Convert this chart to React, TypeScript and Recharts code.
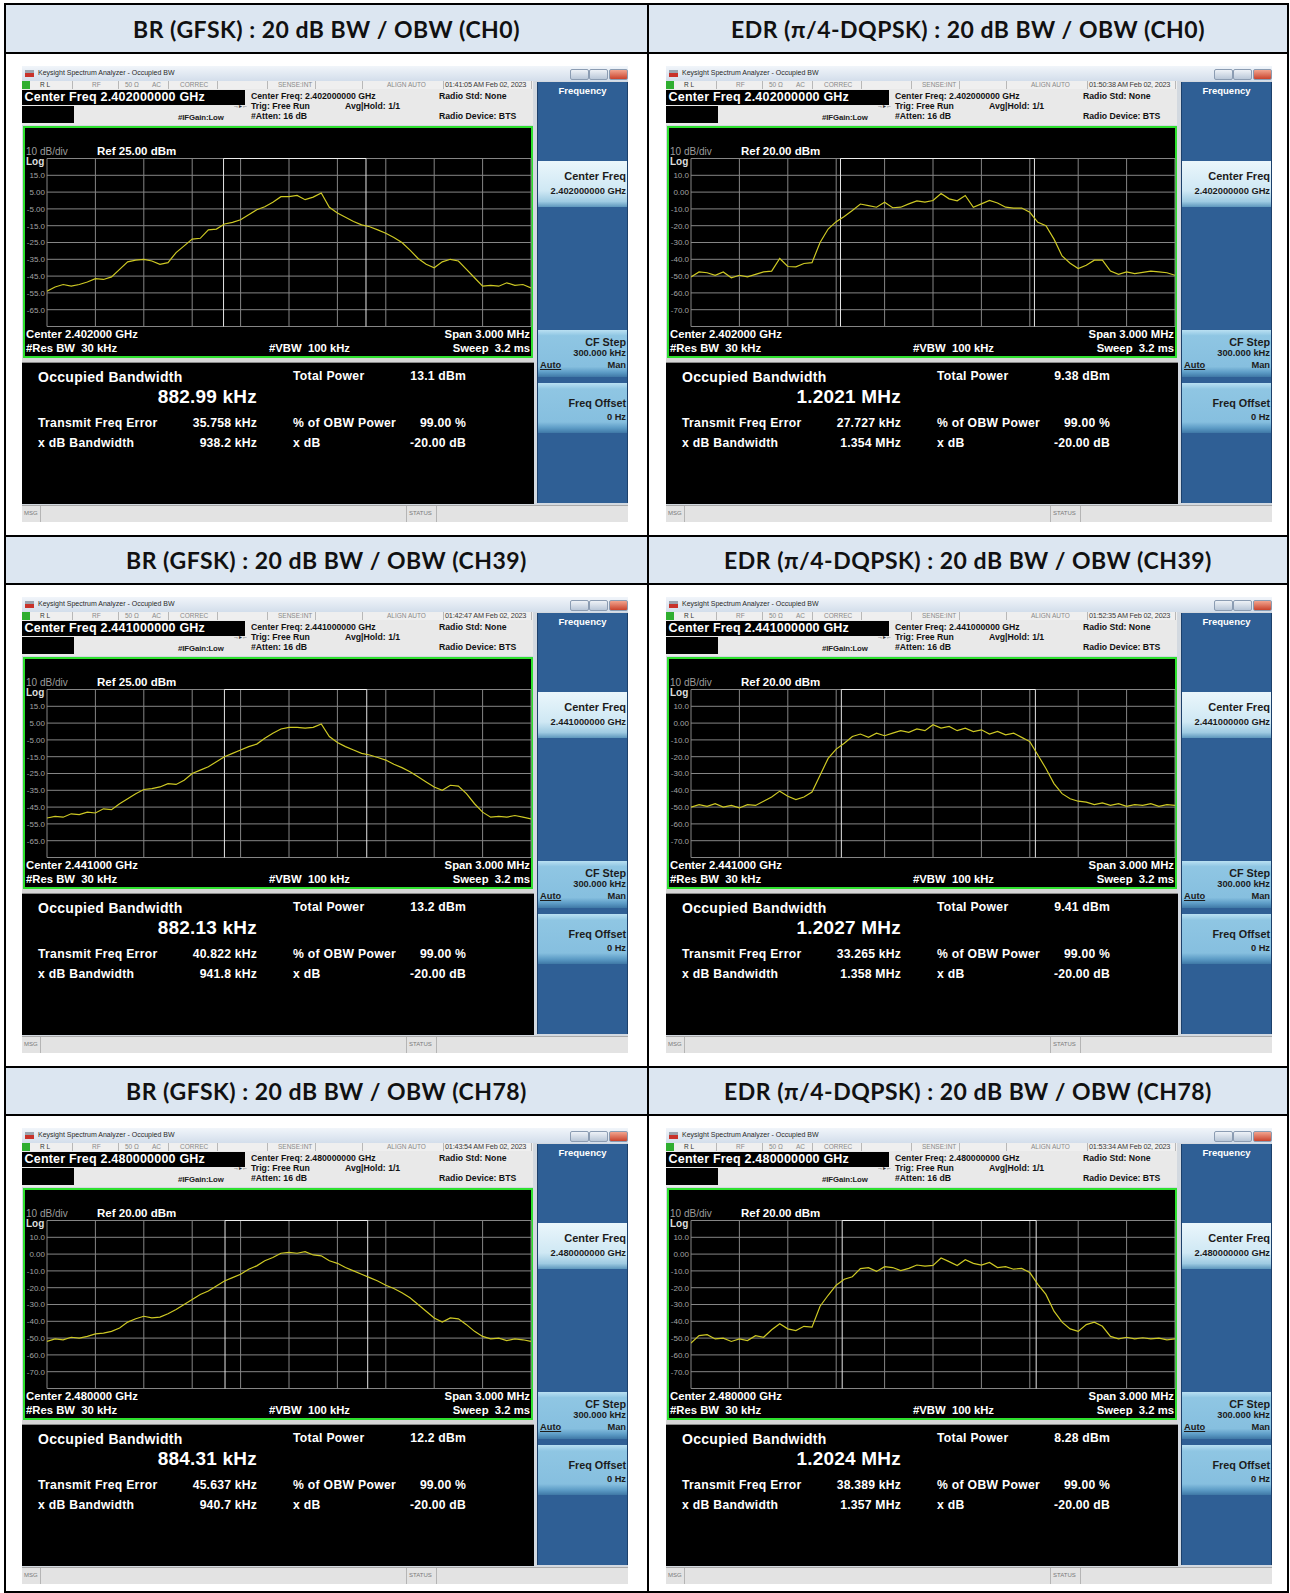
import React from 'react';
import { LineChart, Line, XAxis, YAxis, CartesianGrid, ReferenceLine } from 'recharts';

const UI = '"Liberation Sans", Arial, Helvetica, sans-serif';
const HEAD_FONT = 'Lato, "Open Sans", "Noto Sans", sans-serif';

// table header cells, row by row (left, right)
const TITLES = [
  'BR (GFSK) : 20 dB BW / OBW (CH0)',
  'EDR (π/4-DQPSK) : 20 dB BW / OBW (CH0)',
  'BR (GFSK) : 20 dB BW / OBW (CH39)',
  'EDR (π/4-DQPSK) : 20 dB BW / OBW (CH39)',
  'BR (GFSK) : 20 dB BW / OBW (CH78)',
  'EDR (π/4-DQPSK) : 20 dB BW / OBW (CH78)',
];

// analyzer readouts, same order as TITLES
const CENTER_FREQ = ['2.402000000', '2.402000000', '2.441000000', '2.441000000', '2.480000000', '2.480000000'];
const CENTER_SHORT = ['2.402000', '2.402000', '2.441000', '2.441000', '2.480000', '2.480000'];
const TIMESTAMPS = [
  '01:41:05 AM Feb 02, 2023',
  '01:50:38 AM Feb 02, 2023',
  '01:42:47 AM Feb 02, 2023',
  '01:52:35 AM Feb 02, 2023',
  '01:43:54 AM Feb 02, 2023',
  '01:53:34 AM Feb 02, 2023',
];
const REF_LEVELS = [25, 20, 25, 20, 20, 20];
const OBW_KHZ = [882.99, 1202.1, 882.13, 1202.7, 884.31, 1202.4];
const OBW_TEXT = ['882.99 kHz', '1.2021 MHz', '882.13 kHz', '1.2027 MHz', '884.31 kHz', '1.2024 MHz'];
const TOTAL_POWER = ['13.1 dBm', '9.38 dBm', '13.2 dBm', '9.41 dBm', '12.2 dBm', '8.28 dBm'];
const FREQ_ERR_KHZ = [35.758, 27.727, 40.822, 33.265, 45.637, 38.389];
const XDB_BW = ['938.2 kHz', '1.354 MHz', '941.8 kHz', '1.358 MHz', '940.7 kHz', '1.357 MHz'];

// span 3 MHz, 10 divisions
const FREQ_TICKS = [-1500, -1200, -900, -600, -300, 0, 300, 600, 900, 1200, 1500];
const SWEEP_START = -1500;
const SWEEP_STEP = 50; // kHz between read-off trace points

// traces in dBm, read every 50 kHz from -1.5 MHz to +1.5 MHz
const TRACE_BR_CH0 = [
  -54, -51.5, -50, -51, -50, -48.5, -46.5, -47, -45.5, -41, -36.5, -35.5, -35, -36, -38, -37,
  -31, -27, -23, -22.5, -17.5, -17, -14, -13, -11.5, -8.5, -5.5, -3.7, -1, 2.3, 2.3, 3,
  0.5, 2, 4.5, -4, -7.5, -10, -12.5, -14.5, -15.6, -17.5, -19.5, -22, -25, -29.5, -34.5, -38,
  -40, -36.5, -35, -36, -41, -46, -51, -50.5, -51, -49, -50.5, -50, -52,
];
const TRACE_EDR_CH0 = [
  -50.5, -47.5, -48, -49.5, -47.5, -51, -49.5, -50.5, -49, -47.5, -47, -39.5, -44.3, -44.5, -42.5, -42,
  -30, -22, -17.6, -14.5, -11, -7.1, -8, -9, -6, -9.3, -9, -7, -5.2, -6, -5, -0.8,
  -4, -5.2, -2, -9, -7, -5, -6.5, -9, -9.5, -9.5, -12, -18, -20, -28, -38, -42.3,
  -45.5, -43.5, -40.5, -40.5, -47, -49, -47.5, -48.5, -47.8, -47, -47.5, -48, -49.5,
];
const TRACE_BR_CH39 = [
  -51.5, -50.5, -51, -49, -49.5, -48, -48.5, -46, -46.5, -43, -40, -37, -34.5, -34, -33, -31,
  -31.5, -29, -25, -23, -21, -18, -15, -13, -11, -9, -7.5, -4, -1, 1.5, 2.5, 2.5,
  2, 2.5, 4.5, -3, -6.5, -9, -11, -13, -14, -15.5, -17, -19.5, -21.5, -24, -27, -30,
  -33, -35, -32, -32.5, -37, -43, -48, -51, -50.5, -51, -50, -51, -52,
];
const TRACE_EDR_CH39 = [
  -50, -48.5, -49.5, -48, -50, -49, -50.5, -48.5, -49, -46.5, -44, -40.5, -43.5, -45.5, -44, -41,
  -31, -21, -15.5, -12, -8, -6.5, -8.5, -6, -7.5, -6, -4.5, -5.5, -3.5, -4.5, -1, -3,
  -2, -4.5, -3, -5, -4, -6.5, -5, -7, -6, -8.5, -11, -19, -27, -36, -42, -45,
  -46.5, -47, -48.5, -47.5, -49, -48, -49.5, -48.5, -49, -48, -49.5, -48.5, -49,
];
const TRACE_BR_CH78 = [
  -52, -50.5, -51, -49.5, -50, -49, -47.5, -47, -46, -44, -40.5, -38.5, -37, -38, -37.5, -35.5,
  -33, -30, -27, -24, -22, -19, -16, -14, -12, -9, -7, -4, -2, 0.5, 1, 0.5,
  1.5, -0.5, -1, -4, -5.5, -8, -10, -12, -14, -16, -18.5, -20.5, -23, -26, -30, -34,
  -38, -40.5, -38, -38.5, -42, -46, -49, -50.5, -50, -51.5, -50.5, -51, -52,
];
const TRACE_EDR_CH78 = [
  -53, -48.5, -48, -50.5, -50, -52, -50.5, -51.5, -48.6, -49.5, -45, -41.5, -44.5, -45.5, -43, -43.5,
  -31, -24.5, -18.5, -15, -13.5, -8.6, -8.1, -10.3, -7.5, -8, -9.8, -8.5, -6.5, -7.2, -6.7, -2.3,
  -4.5, -6.8, -3.3, -5.5, -6.5, -5, -8, -7.5, -9, -8.5, -11, -18, -24, -34, -40.5, -44.5,
  -46, -42, -40.5, -43, -49, -50.5, -49.5, -50.5, -49.8, -50.5, -50, -51, -50.5,
];
const TRACES = [TRACE_BR_CH0, TRACE_EDR_CH0, TRACE_BR_CH39, TRACE_EDR_CH39, TRACE_BR_CH78, TRACE_EDR_CH78];

// page layout
const COL_LEFT = [22, 666];
const ROW_TOP = [66, 597, 1128];
const H_LINES = [4, 53, 536, 584, 1067, 1115, 1592];
const V_LINES = [5, 648, 1288];
const HEAD_ROWS = [[4, 53], [536, 584], [1067, 1115]];

type TProps = {
  x: number;
  y: number;
  size: number;
  color?: string;
  weight?: number;
  align?: 'left' | 'right' | 'center';
  ls?: number;
  underline?: boolean;
  children: React.ReactNode;
};

// text placed by its cap-height centre
function T({ x, y, size, color = '#fff', weight = 700, align = 'left', ls = 0, underline, children }: TProps) {
  const box = 360;
  const left = align === 'left' ? x : align === 'right' ? x - box : x - box / 2;
  return (
    <div
      style={{
        position: 'absolute',
        left,
        top: y - size * 0.6,
        width: box,
        height: size * 1.2,
        lineHeight: `${size * 1.2}px`,
        fontSize: size,
        color,
        fontWeight: weight,
        textAlign: align,
        letterSpacing: ls,
        whiteSpace: 'nowrap',
        textDecoration: underline ? 'underline' : undefined,
      }}
    >
      {children}
    </div>
  );
}

function Box({ l, t, w, h, bg, style }: { l: number; t: number; w: number; h: number; bg: string; style?: React.CSSProperties }) {
  return <div style={{ position: 'absolute', left: l, top: t, width: w, height: h, background: bg, ...style }} />;
}

const yLabel = (ref: number) => (v: number) => {
  if (v === ref || v === ref - 100) return '';
  return Math.abs(v) < 10 ? v.toFixed(2) : v.toFixed(1);
};

// vertical graticule lines at the frequency ticks, through the x scale
const freqGridLines = ({ xAxis, offset }: any) =>
  FREQ_TICKS.map((t) =>
    xAxis && typeof xAxis.scale === 'function'
      ? xAxis.scale(t)
      : offset.left + ((t - FREQ_TICKS[0]) / (FREQ_TICKS[FREQ_TICKS.length - 1] - FREQ_TICKS[0])) * offset.width
  );

function Trace({ k }: { k: number }) {
  const ref = REF_LEVELS[k];
  const data = TRACES[k].map((v, i) => ({ f: SWEEP_START + i * SWEEP_STEP, v }));
  const yTicks = FREQ_TICKS.map((_, i) => ref - i * 10);
  const lo = FREQ_ERR_KHZ[k] - OBW_KHZ[k] / 2;
  const hi = FREQ_ERR_KHZ[k] + OBW_KHZ[k] / 2;
  return (
    <div style={{ position: 'absolute', left: 0, top: 87, width: 512, height: 179 }}>
      <LineChart width={512} height={179} data={data} margin={{ top: 5.5, right: 3, bottom: 5.5, left: 0 }}>
        <CartesianGrid stroke="#858585" strokeWidth={1} verticalCoordinatesGenerator={freqGridLines} />
        <XAxis
          type="number"
          dataKey="f"
          domain={[-1500, 1500]}
          ticks={FREQ_TICKS}
          tick={{ fill: 'none', fontSize: 1 }}
          axisLine={false}
          tickLine={false}
          height={0}
          allowDataOverflow
        />
        <YAxis
          type="number"
          domain={[ref - 100, ref]}
          ticks={yTicks}
          interval={0}
          tickFormatter={yLabel(ref)}
          width={25}
          axisLine={false}
          tickLine={false}
          tickSize={0}
          tickMargin={2}
          tick={{ fill: '#a2a2a2', fontSize: 8, fontFamily: UI }}
          allowDataOverflow
        />
        <ReferenceLine x={lo} stroke="#e4e4e4" strokeWidth={1} />
        <ReferenceLine x={hi} stroke="#e4e4e4" strokeWidth={1} />
        <ReferenceLine segment={[{ x: lo, y: ref }, { x: hi, y: ref }]} stroke="#ececec" strokeWidth={1.2} />
        <Line
          dataKey="v"
          type="linear"
          stroke="#cdc824"
          strokeWidth={1.2}
          dot={false}
          isAnimationActive={false}
        />
      </LineChart>
    </div>
  );
}

const STATUS_SEPS = [50, 96, 146, 195, 245, 293, 340, 421, 509];

function SoftKey({ top, h, pale }: { top: number; h: number; pale?: boolean }) {
  const bg = pale
    ? 'linear-gradient(#eaf6fb 0%, #cfe8f4 65%, #9fcbe2 88%, #5d97bd 100%)'
    : 'linear-gradient(#b9e0f2 0%, #8fc6e3 12%, #86bfdf 78%, #5d9cc6 90%, #3f78a6 100%)';
  return <Box l={516} t={top} w={89} h={h} bg={bg} />;
}

function Screen({ k, left, top }: { k: number; left: number; top: number }) {
  const ref = REF_LEVELS[k];
  return (
    <div
      style={{
        position: 'absolute',
        left,
        top,
        width: 606,
        height: 456,
        background: '#d3d9e0',
        fontFamily: UI,
        overflow: 'hidden',
      }}
    >
      {/* window title bar */}
      <Box l={0} t={0} w={606} h={15} bg="linear-gradient(#f1f5fa, #d3deeb)" />
      <Box l={3} t={4} w={9} h={7} bg="linear-gradient(#9aa3ad 0 45%, #c8322a 45%)" />
      <T x={16} y={7.5} size={7} color="#2a2a2a" weight={400}>Keysight Spectrum Analyzer - Occupied BW</T>
      {[548, 567, 587].map((bx, j) => (
        <Box
          key={j}
          l={bx}
          t={2.5}
          w={17}
          h={9}
          bg={j === 2 ? 'linear-gradient(#f2a48e, #c9432d)' : 'linear-gradient(#eef2f7, #b9c7d8)'}
          style={{ border: '1px solid #8b9cb2', borderRadius: 2 }}
        />
      ))}

      {/* status row */}
      <Box l={0} t={15} w={511} h={8} bg="#efefef" />
      <Box l={0} t={15} w={8} h={8} bg="#2fae2f" />
      {STATUS_SEPS.map((sx) => (
        <Box key={sx} l={sx} t={15} w={1} h={8} bg="#b8b8b8" />
      ))}
      <T x={18} y={19} size={6.5} color="#333" weight={400}>R L</T>
      <T x={70} y={19} size={6.5} color="#8a8a8a" weight={400}>RF</T>
      <T x={103} y={19} size={6.5} color="#8a8a8a" weight={400}>50 Ω</T>
      <T x={130} y={19} size={6.5} color="#8a8a8a" weight={400}>AC</T>
      <T x={158} y={19} size={6.5} color="#8a8a8a" weight={400}>CORREC</T>
      <T x={256} y={19} size={6.5} color="#8a8a8a" weight={400}>SENSE:INT</T>
      <T x={365} y={19} size={6.5} color="#8a8a8a" weight={400}>ALIGN AUTO</T>
      <T x={423} y={19} size={7.3} color="#3a3a3a" weight={400} ls={-0.2}>{TIMESTAMPS[k]}</T>

      {/* measurement header */}
      <Box l={0} t={23} w={511} h={36} bg="#e9e9e9" />
      <Box l={0} t={23.5} w={223} h={15} bg="#000" />
      <T x={2.5} y={31.2} size={12.5} ls={0.2}>Center Freq {CENTER_FREQ[k]} GHz</T>
      <Box l={0} t={40} w={52} h={16.5} bg="#000" />
      <T x={156} y={51.5} size={7.8} color="#222" ls={-0.1}>#IFGain:Low</T>
      <T x={211} y={41} size={6} color="#333" weight={400}>→▸←</T>
      <T x={229} y={30.5} size={8.7} color="#111">Center Freq: {CENTER_FREQ[k]} GHz</T>
      <T x={229} y={40} size={8.7} color="#111">Trig: Free Run</T>
      <T x={323} y={40} size={8.7} color="#111">Avg|Hold: 1/1</T>
      <T x={229} y={50} size={8.7} color="#111">#Atten: 16 dB</T>
      <T x={417} y={30.5} size={8.7} color="#111">Radio Std: None</T>
      <T x={417} y={50} size={8.7} color="#111">Radio Device: BTS</T>

      {/* trace screen */}
      <Box l={1} t={59.5} w={510} h={232} bg="#000" style={{ boxSizing: 'border-box', border: '2px solid #2ee02e' }} />
      <T x={4} y={86.3} size={10} color="#9c9c9c" weight={400}>10 dB/div</T>
      <T x={75} y={86.3} size={11.5}>Ref {ref.toFixed(2)} dBm</T>
      <T x={4} y={96} size={10} color="#dedede">Log</T>
      <Trace k={k} />
      <T x={4} y={269} size={11.3}>Center {CENTER_SHORT[k]} GHz</T>
      <T x={4} y={283} size={11.3}>#Res BW&nbsp;&nbsp;30 kHz</T>
      <T x={247} y={283} size={11.3}>#VBW&nbsp;&nbsp;100 kHz</T>
      <T x={508} y={269} size={11.3} align="right">Span 3.000 MHz</T>
      <T x={508} y={283} size={11.3} align="right">Sweep&nbsp;&nbsp;3.2 ms</T>

      {/* result table */}
      <Box l={0} t={292} w={511} h={3.5} bg="#d6d6d6" />
      <Box l={0} t={295.5} w={511.5} h={141.5} bg="#000" style={{ borderTop: '1px solid #8a8a8a' }} />
      <T x={16} y={311} size={14} ls={0.3}>Occupied Bandwidth</T>
      <T x={235} y={331} size={19} align="right" ls={0.2}>{OBW_TEXT[k]}</T>
      <T x={16} y={357} size={12.2} ls={0.3}>Transmit Freq Error</T>
      <T x={235} y={357} size={12.2} align="right" ls={0.2}>{FREQ_ERR_KHZ[k].toFixed(3)} kHz</T>
      <T x={16} y={377} size={12.2} ls={0.3}>x dB Bandwidth</T>
      <T x={235} y={377} size={12.2} align="right" ls={0.2}>{XDB_BW[k]}</T>
      <T x={271} y={310} size={12.2} ls={0.3}>Total Power</T>
      <T x={444} y={310} size={12.2} align="right" ls={0.2}>{TOTAL_POWER[k]}</T>
      <T x={271} y={357} size={12.2} ls={0.3}>% of OBW Power</T>
      <T x={444} y={357} size={12.2} align="right" ls={0.2}>99.00 %</T>
      <T x={271} y={377} size={12.2} ls={0.3}>x dB</T>
      <T x={444} y={377} size={12.2} align="right" ls={0.2}>-20.00 dB</T>

      {/* soft key panel */}
      <Box l={515} t={15.5} w={91} h={421.5} bg="#2f5f95" style={{ boxShadow: 'inset 1px 0 0 #1c406b, inset -1px 0 0 #1c406b' }} />
      <T x={560.5} y={25} size={9.5} align="center">Frequency</T>
      <SoftKey top={95} h={46} pale />
      <T x={604} y={111} size={11} color="#1c1c1c" align="right">Center Freq</T>
      <T x={604} y={126} size={9.3} color="#1c1c1c" align="right">{CENTER_FREQ[k]} GHz</T>
      <SoftKey top={264} h={47} />
      <T x={604} y={276} size={10.8} color="#1c1c1c" align="right">CF Step</T>
      <T x={604} y={288} size={9.3} color="#1c1c1c" align="right">300.000 kHz</T>
      <T x={518} y={300} size={9.3} color="#1c1c1c" underline>Auto</T>
      <T x={604} y={300} size={9.3} color="#1c1c1c" align="right">Man</T>
      <SoftKey top={317} h={50} />
      <T x={604} y={337} size={10.8} color="#1c1c1c" align="right">Freq Offset</T>
      <T x={604} y={352} size={9.3} color="#1c1c1c" align="right">0 Hz</T>

      {/* status bar */}
      <Box l={0} t={439} w={606} h={17} bg="#e3e3e3" style={{ borderTop: '1px solid #a9a9a9' }} />
      <Box l={18} t={440} w={1} h={16} bg="#b5b5b5" />
      <Box l={384} t={440} w={1} h={16} bg="#b5b5b5" />
      <Box l={414} t={440} w={1} h={16} bg="#b5b5b5" />
      <T x={2} y={448} size={6} color="#7a7a7a" weight={400}>MSG</T>
      <T x={387} y={448} size={6} color="#7a7a7a" weight={400}>STATUS</T>
    </div>
  );
}

export default function App() {
  return (
    <div style={{ position: 'absolute', left: 0, top: 0, width: 1290, height: 1593, background: '#fff', overflow: 'hidden' }}>
      {HEAD_ROWS.map(([t, b], r) =>
        [0, 1].map((c) => {
          const l = V_LINES[c];
          const rgt = V_LINES[c + 1];
          return (
            <div
              key={`${r}-${c}`}
              style={{
                position: 'absolute',
                left: l,
                top: t,
                width: rgt - l,
                height: b - t,
                background: '#dce6f1',
                display: 'flex',
                alignItems: 'center',
                justifyContent: 'center',
                fontFamily: HEAD_FONT,
                fontWeight: 700,
                fontSize: 23,
                letterSpacing: 0.5,
                color: '#111',
              }}
            >
              {TITLES[r * 2 + c]}
            </div>
          );
        })
      )}
      {H_LINES.map((y) => (
        <Box key={`h${y}`} l={V_LINES[0] - 1} t={y - 1} w={V_LINES[2] - V_LINES[0] + 2} h={2} bg="#000" />
      ))}
      {V_LINES.map((x) => (
        <Box key={`v${x}`} l={x - 1} t={H_LINES[0] - 1} w={2} h={1593} bg="#000" />
      ))}
      {ROW_TOP.map((top, r) =>
        COL_LEFT.map((left, c) => <Screen key={`${r}-${c}`} k={r * 2 + c} left={left} top={top} />)
      )}
    </div>
  );
}
